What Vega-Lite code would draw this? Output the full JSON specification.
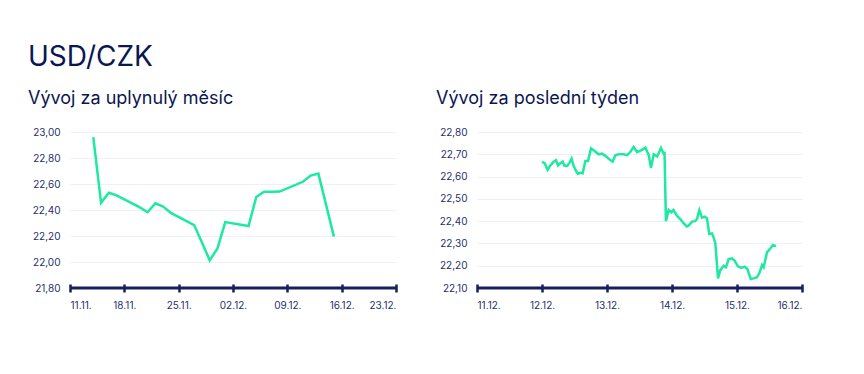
{
  "$schema": "https://vega.github.io/schema/vega-lite/v6.json",
  "background": "white",
  "padding": {"left": 28, "top": 44, "right": 10, "bottom": 10},
  "title": {"text": "USD/CZK", "anchor": "start", "fontSize": 28, "font": "Inter", "fontWeight": 400, "color": "#0b1652", "offset": 18},
  "datasets": {
    "month": [
      {"date": "2023-11-14T00:00", "value": 22.96},
      {"date": "2023-11-15T00:00", "value": 22.455},
      {"date": "2023-11-16T00:00", "value": 22.533},
      {"date": "2023-11-17T00:00", "value": 22.512},
      {"date": "2023-11-20T00:00", "value": 22.42},
      {"date": "2023-11-21T00:00", "value": 22.383},
      {"date": "2023-11-22T00:00", "value": 22.452},
      {"date": "2023-11-23T00:00", "value": 22.427},
      {"date": "2023-11-24T00:00", "value": 22.378},
      {"date": "2023-11-27T00:00", "value": 22.284},
      {"date": "2023-11-28T00:00", "value": 22.15},
      {"date": "2023-11-29T00:00", "value": 22.013},
      {"date": "2023-11-30T00:00", "value": 22.105},
      {"date": "2023-12-01T00:00", "value": 22.307},
      {"date": "2023-12-04T00:00", "value": 22.277},
      {"date": "2023-12-05T00:00", "value": 22.5},
      {"date": "2023-12-06T00:00", "value": 22.54},
      {"date": "2023-12-07T00:00", "value": 22.54},
      {"date": "2023-12-08T00:00", "value": 22.542},
      {"date": "2023-12-11T00:00", "value": 22.617},
      {"date": "2023-12-12T00:00", "value": 22.665},
      {"date": "2023-12-13T00:00", "value": 22.68},
      {"date": "2023-12-15T00:00", "value": 22.195}
    ],
    "week": [
      {"t": "2023-12-12T00:00", "v": 22.666},
      {"t": "2023-12-12T01:00", "v": 22.66},
      {"t": "2023-12-12T02:05", "v": 22.63},
      {"t": "2023-12-12T03:05", "v": 22.65},
      {"t": "2023-12-12T04:20", "v": 22.667},
      {"t": "2023-12-12T05:10", "v": 22.674},
      {"t": "2023-12-12T05:55", "v": 22.65},
      {"t": "2023-12-12T06:45", "v": 22.66},
      {"t": "2023-12-12T07:40", "v": 22.667},
      {"t": "2023-12-12T08:20", "v": 22.648},
      {"t": "2023-12-12T09:20", "v": 22.648},
      {"t": "2023-12-12T10:05", "v": 22.66},
      {"t": "2023-12-12T10:55", "v": 22.68},
      {"t": "2023-12-12T11:40", "v": 22.648},
      {"t": "2023-12-12T12:35", "v": 22.625},
      {"t": "2023-12-12T13:15", "v": 22.613},
      {"t": "2023-12-12T14:10", "v": 22.617},
      {"t": "2023-12-12T15:00", "v": 22.615},
      {"t": "2023-12-12T16:00", "v": 22.67},
      {"t": "2023-12-12T17:00", "v": 22.67},
      {"t": "2023-12-12T18:05", "v": 22.727},
      {"t": "2023-12-12T19:25", "v": 22.715},
      {"t": "2023-12-12T20:55", "v": 22.7},
      {"t": "2023-12-12T22:10", "v": 22.703},
      {"t": "2023-12-12T23:25", "v": 22.693},
      {"t": "2023-12-13T00:50", "v": 22.678},
      {"t": "2023-12-13T02:05", "v": 22.667},
      {"t": "2023-12-13T03:05", "v": 22.696},
      {"t": "2023-12-13T04:20", "v": 22.7},
      {"t": "2023-12-13T06:10", "v": 22.7},
      {"t": "2023-12-13T07:25", "v": 22.696},
      {"t": "2023-12-13T08:35", "v": 22.71},
      {"t": "2023-12-13T09:50", "v": 22.733},
      {"t": "2023-12-13T11:05", "v": 22.71},
      {"t": "2023-12-13T12:55", "v": 22.72},
      {"t": "2023-12-13T14:10", "v": 22.73},
      {"t": "2023-12-13T15:25", "v": 22.696},
      {"t": "2023-12-13T16:15", "v": 22.64},
      {"t": "2023-12-13T17:15", "v": 22.7},
      {"t": "2023-12-13T18:30", "v": 22.69},
      {"t": "2023-12-13T19:05", "v": 22.705},
      {"t": "2023-12-13T19:55", "v": 22.728},
      {"t": "2023-12-13T20:55", "v": 22.703},
      {"t": "2023-12-13T21:15", "v": 22.705},
      {"t": "2023-12-13T21:45", "v": 22.4},
      {"t": "2023-12-13T22:45", "v": 22.45},
      {"t": "2023-12-13T23:45", "v": 22.44},
      {"t": "2023-12-14T00:35", "v": 22.45},
      {"t": "2023-12-14T01:50", "v": 22.424},
      {"t": "2023-12-14T03:05", "v": 22.409},
      {"t": "2023-12-14T04:20", "v": 22.39},
      {"t": "2023-12-14T05:30", "v": 22.376},
      {"t": "2023-12-14T06:10", "v": 22.38},
      {"t": "2023-12-14T07:25", "v": 22.398},
      {"t": "2023-12-14T08:35", "v": 22.4},
      {"t": "2023-12-14T09:15", "v": 22.41},
      {"t": "2023-12-14T10:05", "v": 22.45},
      {"t": "2023-12-14T11:05", "v": 22.416},
      {"t": "2023-12-14T12:05", "v": 22.42},
      {"t": "2023-12-14T12:55", "v": 22.413},
      {"t": "2023-12-14T13:45", "v": 22.342},
      {"t": "2023-12-14T14:45", "v": 22.345},
      {"t": "2023-12-14T15:30", "v": 22.322},
      {"t": "2023-12-14T16:00", "v": 22.3},
      {"t": "2023-12-14T17:00", "v": 22.143},
      {"t": "2023-12-14T17:50", "v": 22.18},
      {"t": "2023-12-14T19:05", "v": 22.2},
      {"t": "2023-12-14T19:55", "v": 22.193},
      {"t": "2023-12-14T20:55", "v": 22.23},
      {"t": "2023-12-14T22:10", "v": 22.233},
      {"t": "2023-12-14T23:10", "v": 22.222},
      {"t": "2023-12-15T00:20", "v": 22.197},
      {"t": "2023-12-15T01:35", "v": 22.19},
      {"t": "2023-12-15T02:50", "v": 22.196},
      {"t": "2023-12-15T03:50", "v": 22.185},
      {"t": "2023-12-15T05:05", "v": 22.14},
      {"t": "2023-12-15T06:10", "v": 22.143},
      {"t": "2023-12-15T07:25", "v": 22.148},
      {"t": "2023-12-15T08:15", "v": 22.167},
      {"t": "2023-12-15T09:15", "v": 22.203},
      {"t": "2023-12-15T09:50", "v": 22.193},
      {"t": "2023-12-15T11:05", "v": 22.26},
      {"t": "2023-12-15T12:20", "v": 22.278},
      {"t": "2023-12-15T13:15", "v": 22.293},
      {"t": "2023-12-15T14:25", "v": 22.288}
    ]
  },
  "spacing": 38,
  "hconcat": [
    {
      "width": 326,
      "height": 156,
      "title": {"text": "Vývoj za uplynulý měsíc", "anchor": "start", "frame": "group", "dx": -42, "fontSize": 18, "fontWeight": 400, "font": "Inter", "color": "#0b1652", "offset": 19},
      "layer": [
        {
          "data": {"name": "month"},
          "mark": {"type": "line", "color": "#1de9a0", "strokeWidth": 2.5},
          "encoding": {
            "x": {
              "field": "date", "type": "temporal",
              "scale": {"domain": [{"year": 2023, "month": 11, "date": 11}, {"year": 2023, "month": 12, "date": 23}]},
              "axis": {
                "values": [
                  {"year": 2023, "month": 11, "date": 11},
                  {"year": 2023, "month": 11, "date": 18},
                  {"year": 2023, "month": 11, "date": 25},
                  {"year": 2023, "month": 12, "date": 2},
                  {"year": 2023, "month": 12, "date": 9},
                  {"year": 2023, "month": 12, "date": 16},
                  {"year": 2023, "month": 12, "date": 23}
                ],
                "format": "%d.%m.", "title": null, "grid": false, "domain": false,
                "ticks": true, "tickSize": 8, "tickWidth": 2.5, "tickColor": "#16205c",
                "offset": -4, "labelPadding": 8, "labelOverlap": false
              }
            },
            "y": {
              "field": "value", "type": "quantitative",
              "scale": {"domain": [21.8, 23.0], "nice": false, "zero": false},
              "axis": {
                "values": [21.8, 22.0, 22.2, 22.4, 22.6, 22.8, 23.0],
                "labelExpr": "replace(format(datum.value, '.2f'), '.', ',')",
                "title": null, "domain": false, "ticks": false, "grid": true, "labelPadding": 10, "labelOverlap": false
              }
            }
          }
        },
        {
          "data": {"values": [{}]},
          "mark": {"type": "rule", "color": "#16205c", "strokeWidth": 3},
          "encoding": {
            "y": {
              "datum": 21.8, "type": "quantitative",
              "scale": {"domain": [21.8, 23.0], "nice": false, "zero": false},
              "axis": {
                "values": [21.8, 22.0, 22.2, 22.4, 22.6, 22.8, 23.0],
                "labelExpr": "replace(format(datum.value, '.2f'), '.', ',')",
                "title": null, "domain": false, "ticks": false, "grid": true, "labelPadding": 10, "labelOverlap": false
              }
            }
          }
        }
      ]
    },
    {
      "width": 325,
      "height": 156,
      "title": {"text": "Vývoj za poslední týden", "anchor": "start", "frame": "group", "dx": -41, "fontSize": 18, "fontWeight": 400, "font": "Inter", "color": "#0b1652", "offset": 19},
      "layer": [
        {
          "data": {"name": "week"},
          "mark": {"type": "line", "color": "#1de9a0", "strokeWidth": 2.5},
          "encoding": {
            "x": {
              "field": "t", "type": "temporal",
              "scale": {"domain": [{"year": 2023, "month": 12, "date": 11}, {"year": 2023, "month": 12, "date": 16}]},
              "axis": {
                "values": [
                  {"year": 2023, "month": 12, "date": 11},
                  {"year": 2023, "month": 12, "date": 12},
                  {"year": 2023, "month": 12, "date": 13},
                  {"year": 2023, "month": 12, "date": 14},
                  {"year": 2023, "month": 12, "date": 15},
                  {"year": 2023, "month": 12, "date": 16}
                ],
                "format": "%d.%m.", "title": null, "grid": false, "domain": false,
                "ticks": true, "tickSize": 8, "tickWidth": 2.5, "tickColor": "#16205c",
                "offset": -4, "labelPadding": 8, "labelOverlap": false
              }
            },
            "y": {
              "field": "v", "type": "quantitative",
              "scale": {"domain": [22.1, 22.8], "nice": false, "zero": false},
              "axis": {
                "values": [22.1, 22.2, 22.3, 22.4, 22.5, 22.6, 22.7, 22.8],
                "labelExpr": "replace(format(datum.value, '.2f'), '.', ',')",
                "title": null, "domain": false, "ticks": false, "grid": true, "labelPadding": 10, "labelOverlap": false
              }
            }
          }
        },
        {
          "data": {"values": [{}]},
          "mark": {"type": "rule", "color": "#16205c", "strokeWidth": 3},
          "encoding": {
            "y": {
              "datum": 22.1, "type": "quantitative",
              "scale": {"domain": [22.1, 22.8], "nice": false, "zero": false},
              "axis": {
                "values": [22.1, 22.2, 22.3, 22.4, 22.5, 22.6, 22.7, 22.8],
                "labelExpr": "replace(format(datum.value, '.2f'), '.', ',')",
                "title": null, "domain": false, "ticks": false, "grid": true, "labelPadding": 10, "labelOverlap": false
              }
            }
          }
        }
      ]
    }
  ],
  "config": {
    "view": {"stroke": null},
    "font": "Inter",
    "axis": {"labelFont": "Inter", "labelFontSize": 10, "labelColor": "#26306b", "gridColor": "#eef0f5", "gridWidth": 1}
  }
}
